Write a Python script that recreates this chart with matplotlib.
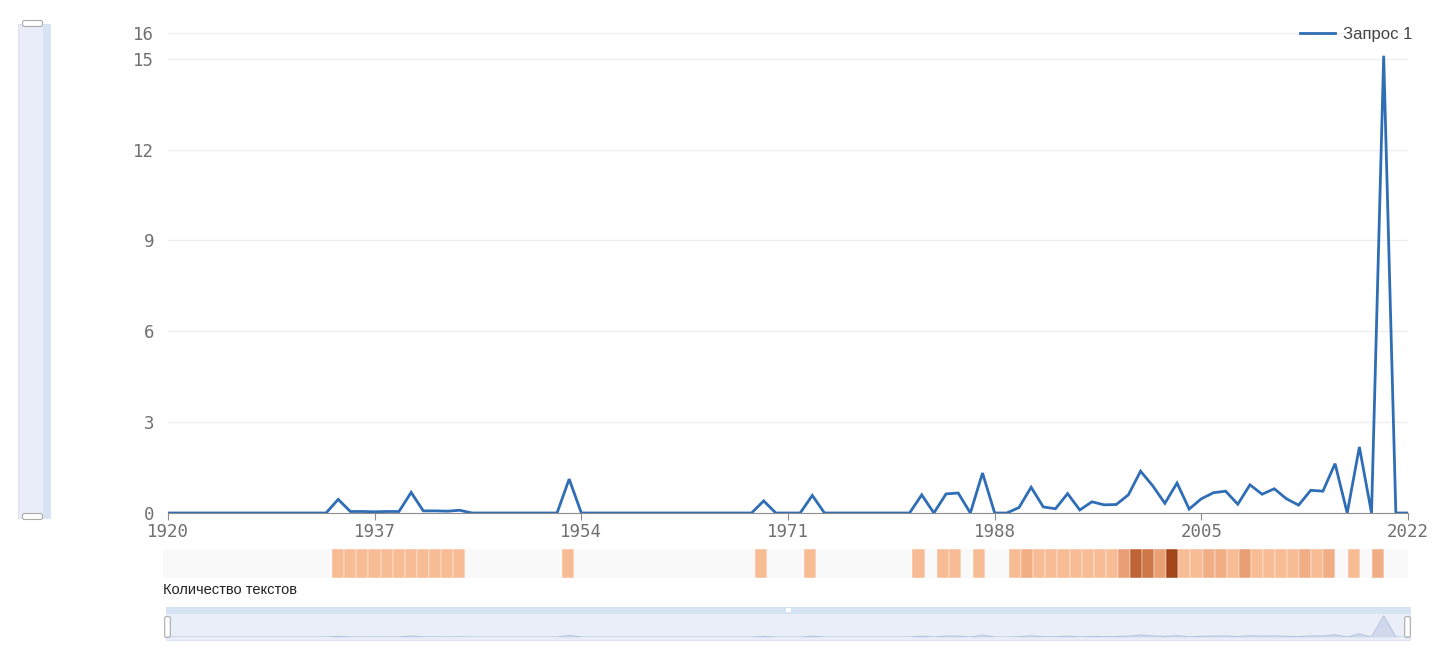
import matplotlib
matplotlib.use("Agg")
import matplotlib.pyplot as plt
import numpy as np
from matplotlib.patches import Rectangle, FancyBboxPatch
from matplotlib.colors import LinearSegmentedColormap

W, H = 1441, 658

years = list(range(1920, 2023))

# relative frequency per year
freq = [
    0, 0, 0, 0, 0, 0, 0, 0, 0, 0,                            # 1920s
    0, 0, 0, 0, 0.45, 0.05, 0.05, 0.04, 0.05, 0.05,          # 1930s
    0.68, 0.07, 0.07, 0.06, 0.09, 0, 0, 0, 0, 0,             # 1940s
    0, 0, 0, 1.12, 0, 0, 0, 0, 0, 0,                         # 1950s
    0, 0, 0, 0, 0, 0, 0, 0, 0, 0.40,                         # 1960s
    0, 0, 0, 0.58, 0, 0, 0, 0, 0, 0,                         # 1970s
    0, 0, 0.60, 0, 0.63, 0.66, 0, 1.32, 0, 0,                # 1980s
    0.18, 0.85, 0.20, 0.14, 0.64, 0.10, 0.37, 0.27, 0.28, 0.60,  # 1990s
    1.38, 0.90, 0.32, 0.99, 0.13, 0.47, 0.67, 0.72, 0.29, 0.93,  # 2000s
    0.62, 0.80, 0.47, 0.26, 0.75, 0.72, 1.63, 0, 2.18, 0,    # 2010s
    15.1, 0, 0,                                              # 2020-2022
]

# number of texts per year (heat strip)
n_texts = [
    0, 0, 0, 0, 0, 0, 0, 0, 0, 0,
    0, 0, 0, 0, 1, 1, 1, 1, 1, 1,
    1, 1, 1, 1, 1, 0, 0, 0, 0, 0,
    0, 0, 0, 1, 0, 0, 0, 0, 0, 0,
    0, 0, 0, 0, 0, 0, 0, 0, 0, 1,
    0, 0, 0, 1, 0, 0, 0, 0, 0, 0,
    0, 0, 1, 0, 1, 1, 0, 1, 0, 0,
    1, 2, 1, 1, 1, 1, 1, 1, 1, 3,
    6, 5, 3, 8, 1, 1, 2, 2, 1, 3,
    1, 1, 1, 1, 2, 1, 2, 0, 1, 0,
    2, 0, 0,
]

x_ticks = [1920, 1937, 1954, 1971, 1988, 2005, 2022]
y_ticks = [0, 3, 6, 9, 12, 15]
y_max = 15.85
series_name = "Запрос 1"
strip_label = "Количество текстов"

LINE = "#2f6db5"
TICK_FONT = "DejaVu Sans Mono"
TEXT_FONT = "Liberation Sans"


def rect(x0, y0, x1, y1):
    return [x0 / W, 1 - y1 / H, (x1 - x0) / W, (y1 - y0) / H]


fig = plt.figure(figsize=(W / 100, H / 100), dpi=100)

# background layer in pixel coords for the zoom sliders
bg = fig.add_axes([0, 0, 1, 1], zorder=-5)
bg.set_xlim(0, W)
bg.set_ylim(H, 0)
bg.axis("off")

# left vertical slider
bg.add_patch(Rectangle((18, 24), 32, 494, fc="#e8edf9", ec="#dde5f2", lw=0.8))
bg.add_patch(Rectangle((43, 24), 7, 494, fc="#d6e3f3", ec="none"))
for yy in (24, 517):
    bg.add_patch(FancyBboxPatch((23, yy - 3), 19, 5, boxstyle="round,pad=0.5,rounding_size=2",
                                fc="white", ec="#aaaaaa", lw=0.8))

# bottom horizontal slider
bg.add_patch(Rectangle((166, 607), 1244, 33, fc="#e9eef9", ec="#dde5f2", lw=0.8))
bg.add_patch(Rectangle((166, 607), 1244, 7, fc="#d6e3f3", ec="none"))
bg.add_patch(Rectangle((786, 608), 5, 4, fc="white", ec="none"))
for xx in (168, 1408):
    bg.add_patch(FancyBboxPatch((xx - 3, 617), 5, 20, boxstyle="round,pad=0.3,rounding_size=1.5",
                                fc="white", ec="#aaaaaa", lw=0.8))

# miniature of the series inside the bottom slider
mini = fig.add_axes(rect(168, 614, 1408, 637), zorder=-4)
mini.fill_between(years, freq, color="#c9d3ea", alpha=0.8, lw=0)
mini.plot(years, freq, color="#b8c4de", lw=0.8)
mini.set_xlim(1920, 2022)
mini.set_ylim(0, 16.5)
mini.axis("off")

# main line chart
ax = fig.add_axes(rect(168, 33, 1408, 513))
ax.plot(years, freq, color=LINE, lw=2.0, label=series_name, solid_joinstyle="miter")
ax.set_xlim(1920, 2022)
ax.set_ylim(0, y_max)
ax.set_xticks(x_ticks)
ax.set_yticks(y_ticks + [y_max])
ax.set_yticklabels([str(t) for t in y_ticks] + ["16"])
for t in y_ticks[1:] + [y_max]:
    ax.axhline(t, color="#efefef", lw=1, zorder=0)
for s in ("top", "right", "left"):
    ax.spines[s].set_visible(False)
ax.spines["bottom"].set_color("#8c8c8c")
ax.tick_params(axis="x", length=5, color="#8c8c8c", pad=2, labelsize=12.5, labelcolor="#707070")
ax.tick_params(axis="y", length=0, pad=10, labelsize=12.5, labelcolor="#707070")
for lab in ax.get_xticklabels() + ax.get_yticklabels():
    lab.set_fontfamily(TICK_FONT)

leg = ax.legend(loc="upper right", bbox_to_anchor=(1419 / W, 1 - 20 / H),
                bbox_transform=fig.transFigure, frameon=False, handlelength=2.1,
                handletextpad=0.45, borderaxespad=0,
                prop={"family": TEXT_FONT, "size": 12})
for txt in leg.get_texts():
    txt.set_color("#444444")

# heat strip with number of texts
cmap = LinearSegmentedColormap.from_list("txt", ["#f8bc95", "#e8996d", "#c4693a", "#a3461a"])
counts = np.array(n_texts)
cols = [cmap((c - 1) / 7) if c > 0 else "#f9f9f9" for c in counts]
hax = fig.add_axes(rect(163, 549, 1408, 578))
hax.bar(years, np.ones(len(years)), width=1.0, color=cols, edgecolor="#fdfdfd", linewidth=0.3)
hax.set_xlim(1919.5, 2022.5)
hax.set_ylim(0, 1)
hax.axis("off")

fig.text(163 / W, 1 - 590 / H, strip_label, fontsize=10.5, family=TEXT_FONT,
         color="#222222", va="center", ha="left")

fig.savefig("out.png", dpi=100)
